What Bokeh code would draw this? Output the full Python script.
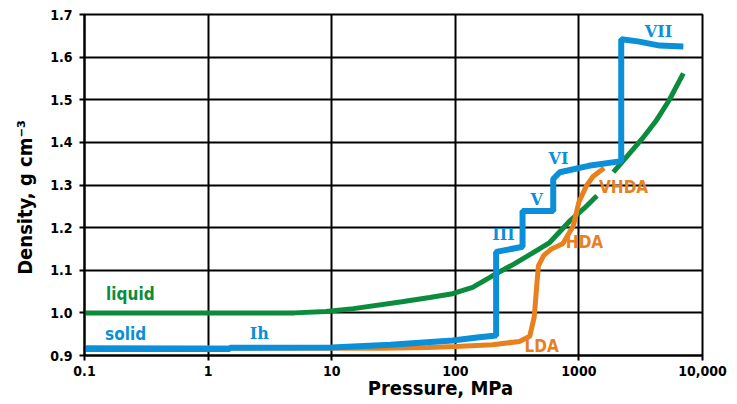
import math
from bokeh.plotting import figure
from bokeh.models import (FixedTicker, CustomJSTickFormatter, PrintfTickFormatter,
                          ColumnDataSource, Range1d)
from bokeh.core.properties import value
from bokeh.embed import file_html
from bokeh.resources import INLINE

# ---------------- data ----------------
x_ticks = [0.1, 1, 10, 100, 1000, 10000]
x_tick_labels = ["0.1", "1", "10", "100", "1000", "10,000"]
y_ticks = [0.9, 1.0, 1.1, 1.2, 1.3, 1.4, 1.5, 1.6, 1.7]

liquid_p = [0.1, 5, 9, 15, 37, 62, 95, 138, 200, 300, 420, 580, 840, 1100, 1400,
            float("nan"), 1900, 2500, 3240, 4200, 5400, 7000]
liquid_rho = [1.0, 1.0, 1.003, 1.01, 1.026, 1.036, 1.045, 1.06, 1.087, 1.115, 1.14,
              1.165, 1.215, 1.245, 1.275, float("nan"), 1.33, 1.37, 1.408, 1.45, 1.50, 1.562]

solid_p = [0.1, 1.5, 1.5, 10, 30, 95, 150, 214, 214, 350, 350, 620, 620, 700, 1200,
           2200, 2200, 3000, 4500, 7000]
solid_rho = [0.915, 0.915, 0.918, 0.919, 0.925, 0.935, 0.942, 0.947, 1.143, 1.155,
             1.239, 1.239, 1.314, 1.33, 1.345, 1.356, 1.642, 1.637, 1.627, 1.625]

amorph_p = [0.1, 25, 60, 100, 200, 330, 400, 435, 455, 470, 520, 600, 740, 900, 1000,
            1150, 1300, 1600]
amorph_rho = [0.919, 0.917, 0.919, 0.921, 0.925, 0.933, 0.945, 0.99, 1.06, 1.11,
              1.135, 1.15, 1.162, 1.204, 1.26, 1.298, 1.32, 1.34]

sans_labels = ["liquid", "solid", "LDA", "HDA", "VHDA"]
sans_label_p = [0.235, 0.215, 500, 1110, 2300]
sans_label_rho = [1.045, 0.951, 0.923, 1.167, 1.295]
sans_label_colors = ["#0A8C3C", "#0B8FD8", "#E8801E", "#E8801E", "#E8801E"]

phase_labels = ["Ih", "III", "V", "VI", "VII"]
phase_label_p = [2.6, 245, 455, 684, 4400]
phase_label_rho = [0.951, 1.183, 1.267, 1.361, 1.66]

x_title = "Pressure, MPa"
y_title = "Density, g cm\u207b\u00b3"

BLUE = "#0B8FD8"
GREEN = "#0A8C3C"
ORANGE = "#E8801E"
FONT = "DejaVu Sans Condensed"
NB = "\u00a0"

p = figure(width=732, height=402, x_axis_type="log",
           x_range=Range1d(0.1, 10000), y_range=Range1d(0.9, 1.7),
           output_backend="svg", toolbar_location=None,
           min_border_left=84, min_border_right=30, min_border_top=14,
           min_border_bottom=46)

p.background_fill_color = "white"
p.border_fill_color = "white"
p.outline_line_color = "black"
p.outline_line_width = 2
p.outline_line_alpha = 1

# axes
p.xaxis.ticker = FixedTicker(ticks=x_ticks)
p.xaxis.formatter = CustomJSTickFormatter(
    args=dict(vals=x_ticks, labs=x_tick_labels),
    code="""
    let best = 0, bd = Infinity;
    for (let i = 0; i < vals.length; i++) {
        const d = Math.abs(Math.log10(vals[i]) - Math.log10(tick));
        if (d < bd) { bd = d; best = i; }
    }
    return labs[best];
    """)
p.yaxis.ticker = FixedTicker(ticks=y_ticks)
p.yaxis.formatter = PrintfTickFormatter(format="%.1f")

for ax in (p.xaxis, p.yaxis):
    ax.axis_line_color = "black"
    ax.axis_line_width = 2
    ax.major_tick_line_color = "black"
    ax.major_tick_line_width = 2
    ax.major_tick_out = 5
    ax.major_tick_in = 0
    ax.minor_tick_line_color = None
    ax.major_label_text_font = FONT
    ax.major_label_text_font_style = "bold"
    ax.major_label_text_font_size = "14px"
    ax.major_label_text_color = "black"
    ax.axis_label_text_font = FONT
    ax.axis_label_text_font_style = "bold"
    ax.axis_label_text_font_size = "20px"
    ax.axis_label_text_color = "black"
p.xaxis.major_label_standoff = 5
p.yaxis.major_label_standoff = 7

# axis titles (non-breaking spaces shift them off-centre as in the reference)
p.xaxis.axis_label = NB * 15 + x_title
p.xaxis.axis_label_standoff = -3
p.yaxis.axis_label = y_title + NB * 4
p.yaxis.axis_label_standoff = 10

p.xgrid.grid_line_color = "black"
p.xgrid.grid_line_width = 2
p.xgrid.grid_line_alpha = 1
p.ygrid.grid_line_color = "black"
p.ygrid.grid_line_width = 2
p.ygrid.grid_line_alpha = 1

# curves
p.line(liquid_p, liquid_rho, line_color=GREEN, line_width=5)
p.line(amorph_p, amorph_rho, line_color=ORANGE, line_width=5)
p.line(solid_p, solid_rho, line_color=BLUE, line_width=6)

# curve labels
src1 = ColumnDataSource(dict(x=sans_label_p, y=sans_label_rho, t=sans_labels,
                             c=sans_label_colors))
p.text(x="x", y="y", text="t", text_color="c", source=src1,
       text_font=value(FONT), text_font_style="bold", text_font_size="17px",
       text_align="center", text_baseline="middle")

src2 = ColumnDataSource(dict(x=phase_label_p, y=phase_label_rho, t=phase_labels))
p.text(x="x", y="y", text="t", text_color=BLUE, source=src2,
       text_font=value("DejaVu Serif"), text_font_style="bold", text_font_size="16px",
       text_align="center", text_baseline="middle")

open("out.html", "w").write(file_html(p, INLINE))
